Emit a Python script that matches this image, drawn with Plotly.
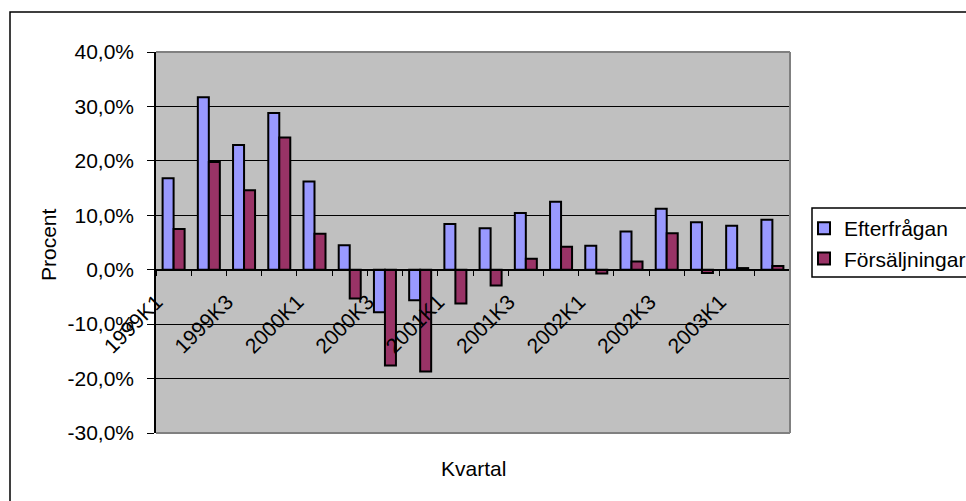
import plotly.graph_objects as go

# Quarterly change, percent
kvartal = [
    "1999K1", "1999K2", "1999K3", "1999K4",
    "2000K1", "2000K2", "2000K3", "2000K4",
    "2001K1", "2001K2", "2001K3", "2001K4",
    "2002K1", "2002K2", "2002K3", "2002K4",
    "2003K1", "2003K2",
]
efterfragan = [16.8, 31.7, 22.9, 28.8, 16.2, 4.5, -7.8, -5.6, 8.4,
               7.6, 10.4, 12.5, 4.4, 7.0, 11.2, 8.7, 8.1, 9.2]
forsaljningar = [7.5, 19.8, 14.6, 24.3, 6.6, -5.3, -17.6, -18.7, -6.2,
                 -2.9, 2.0, 4.2, -0.7, 1.5, 6.7, -0.6, 0.3, 0.7]
y_ticks = [-30, -20, -10, 0, 10, 20, 30, 40]

# every other quarter gets a label
tick_text = [k if i % 2 == 0 else "" for i, k in enumerate(kvartal)]
# Swedish percent labels with decimal comma
y_tick_text = [f"{v:.1f}%".replace(".", ",") for v in y_ticks]

FONT = "Arial, Liberation Sans, sans-serif"
FS = 21
W, H = 966, 501
L, R, T, B = 156, 176, 52, 68
PW, PH = W - L - R, H - T - B
YMIN, YMAX = -30, 40


def px(x):
    return (x - L) / PW


def py(y):
    return (H - B - y) / PH


fig = go.Figure()
fig.add_trace(go.Bar(
    x=kvartal, y=efterfragan, name="Efterfrågan",
    marker=dict(color="#9999FF", line=dict(color="black", width=2)),
))
fig.add_trace(go.Bar(
    x=kvartal, y=forsaljningar, name="Försäljningar",
    marker=dict(color="#993366", line=dict(color="black", width=2)),
))

line_gray = dict(color="#808080", width=2)
shapes = [
    # plot-area frame (top, right, bottom)
    dict(type="line", xref="paper", yref="paper", x0=0, x1=1, y0=1, y1=1, line=line_gray, layer="above"),
    dict(type="line", xref="paper", yref="paper", x0=1, x1=1, y0=0, y1=1, line=line_gray, layer="above"),
    dict(type="line", xref="paper", yref="paper", x0=0, x1=1, y0=0, y1=0, line=line_gray, layer="above"),
    # chart frame
    dict(type="rect", xref="paper", yref="paper",
         x0=px(10), x1=px(990), y0=py(520), y1=py(12),
         line=dict(color="black", width=1.5), fillcolor="rgba(0,0,0,0)"),
    # legend frame
    dict(type="rect", xref="paper", yref="paper",
         x0=px(812), x1=px(990), y0=py(277), y1=py(208),
         line=dict(color="black", width=1.5), fillcolor="rgba(0,0,0,0)"),
]

fig.update_layout(
    width=W, height=H,
    margin=dict(l=L, r=R, t=T, b=B, autoexpand=False),
    paper_bgcolor="white",
    plot_bgcolor="#C0C0C0",
    font=dict(family=FONT, size=FS, color="black"),
    barmode="group",
    bargap=0.375,
    bargroupgap=0,
    showlegend=True,
    legend=dict(
        x=px(804), y=py(208), xanchor="left", yanchor="top",
        bgcolor="rgba(0,0,0,0)", borderwidth=0,
        font=dict(family=FONT, size=FS),
    ),
    xaxis=dict(
        type="category",
        categoryorder="array", categoryarray=kvartal,
        tickmode="array", tickvals=kvartal, ticktext=tick_text,
        tickson="boundaries",
        ticks="outside", ticklen=6, tickwidth=1, tickcolor="black",
        tickangle=-45,
        ticklabelshift=-17,
        ticklabelstandoff=11,
        showline=True, linecolor="black", linewidth=1.5,
        showgrid=False, zeroline=False,
        anchor="free", position=(0 - YMIN) / (YMAX - YMIN),
        tickfont=dict(family=FONT, size=FS),
        automargin=False,
    ),
    yaxis=dict(
        range=[YMIN, YMAX],
        tickmode="array", tickvals=y_ticks, ticktext=y_tick_text,
        ticks="outside", ticklen=7, tickcolor="black",
        ticklabelstandoff=9,
        showline=True, linecolor="black", linewidth=1.5,
        showgrid=True, gridcolor="black", gridwidth=1,
        zeroline=False,
        tickfont=dict(family=FONT, size=FS),
        automargin=False,
    ),
    shapes=shapes,
    annotations=[
        dict(text="Procent", xref="paper", yref="paper", x=px(48), y=py(245),
             textangle=-90, showarrow=False, xanchor="center", yanchor="middle",
             font=dict(family=FONT, size=FS)),
        dict(text="Kvartal", xref="paper", yref="paper", x=0.5, y=py(468),
             showarrow=False, xanchor="center", yanchor="middle",
             font=dict(family=FONT, size=FS)),
    ],
)

fig.write_html("out.html")
